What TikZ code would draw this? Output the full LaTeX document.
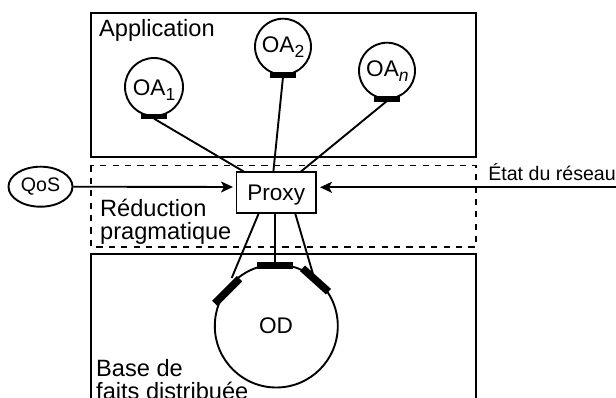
\documentclass[tikz,border=0pt]{standalone}
\usepackage{fontspec}
\setmainfont{Liberation Sans}
\usetikzlibrary{arrows.meta,shapes.geometric}
\newcommand{\bigtxt}{\fontsize{22.6}{23}\selectfont}
\newcommand{\labeltxt}{\fontsize{23.6}{24}\selectfont}
\newcommand{\smalltxt}{\fontsize{19.6}{20}\selectfont}
\newcommand{\subtxt}[1]{\raisebox{-5pt}{\fontsize{17.5}{17}\selectfont #1}}
\tikzset{
  line/.style={line width=1.9pt,draw=black},
  region/.style={line width=2pt},
  dashregion/.style={line width=1.9pt,dash pattern=on 6.2pt off 6.2pt},
  obj/.style={circle,draw=black,line width=1.9pt,fill=white,inner sep=0pt},
  port/.style={rectangle,fill=black,inner sep=0pt,minimum width=26pt,minimum height=5.5pt},
  dport/.style={rectangle,fill=black,inner sep=0pt,minimum width=35pt,minimum height=7.5pt},
  label/.style={anchor=base west,inner sep=0pt,font=\labeltxt},
  objlabel/.style={anchor=base west,inner sep=0pt,font=\bigtxt},
  flow/.style={line,-{Stealth[length=12pt,width=11pt,inset=3pt]}}
}
\begin{document}
\begin{tikzpicture}[x=1pt,y=-1pt]
\useasboundingbox (0,0) rectangle (616,398);
\clip (0,0) rectangle (616,398);
% regions
\draw[region] (91,13.5) rectangle (476,157.5);
\draw[dashregion] (91,165.5) rectangle (476,247);
\draw[region] (91,420) -- (91,254.5) -- (476,254.5) -- (476,420);
% objects
\node[obj,minimum size=58pt] (oa1) at (154,87) {};
\node[obj,minimum size=56pt] (oa2) at (283,46.7) {};
\node[obj,minimum size=56pt] (oan) at (387,70.7) {};
\node[port] (p1) at (154,116.7) {};
\node[port] (p2) at (283,75) {};
\node[port] (pn) at (387,99) {};
\node[obj,minimum size=123pt] (od) at (276.3,326) {};
\node[dport,minimum width=36pt] (dtop) at (275,265.7) {};
\node[dport,rotate=45] (dleft) at (227.2,291) {};
\node[dport,rotate=-42] (dright) at (315.5,280) {};
\node[draw=black,line width=1.9pt,fill=white,minimum width=79.5pt,minimum height=40.5pt,inner sep=0pt] (proxy) at (276.2,192.5) {};
\node[inner sep=0pt,anchor=base,font=\bigtxt] (proxytxt) at (276.2,200.5) {Proxy};
\node[ellipse,draw=black,line width=1.9pt,minimum width=64pt,minimum height=40pt,inner sep=0pt,font=\smalltxt] (qos) at (40.5,186.7) {QoS};
% free ends
\coordinate (in1) at (245,172.3);
\coordinate (in2) at (273.3,172.3);
\coordinate (inn) at (300,172.3);
\coordinate (outl) at (259,212.7);
\coordinate (outm) at (275,212.7);
\coordinate (outr) at (295,212.7);
\coordinate (endl) at (231.7,278);
\coordinate (endr) at (312.7,273);
\coordinate (qosend) at (233,187);
\coordinate (netstart) at (616,187.3);
\coordinate (netend) at (320,187.3);
\draw[line] (p1.south) ++(0,-1) -- (in1);
\draw[line] (p2.south) ++(0,-1) -- (in2);
\draw[line] (pn.south) ++(0,-1) -- (inn);
\draw[line] (outl) -- (endl);
\draw[line] (outm) -- (dtop.north);
\draw[line] (outr) -- (endr);
\draw[flow] (qos.east) -- (qosend);
\draw[flow] (netstart) -- (netend);
% labels
\node[label] (app) at (99,36.7) {Application};
\node[label] (red) at (100,217) {Réduction};
\node[label] (prag) at (100,240) {pragmatique};
\node[label] (base) at (96,376.7) {Base de};
\node[label] (faits) at (96,399.7) {faits distribuée};
\node[objlabel] (t1) at (132.7,96) {OA\subtxt{1}};
\node[objlabel] (t2) at (261.7,52.7) {OA\subtxt{2}};
\node[objlabel] (tn) at (366,76.7) {OA\subtxt{\itshape n}};
\node[inner sep=0pt,anchor=base,font=\bigtxt] (odt) at (276,333.5) {OD};
\node[inner sep=0pt,anchor=base east,font=\smalltxt] (net) at (616,181) {État du réseau};
\end{tikzpicture}
\end{document}
